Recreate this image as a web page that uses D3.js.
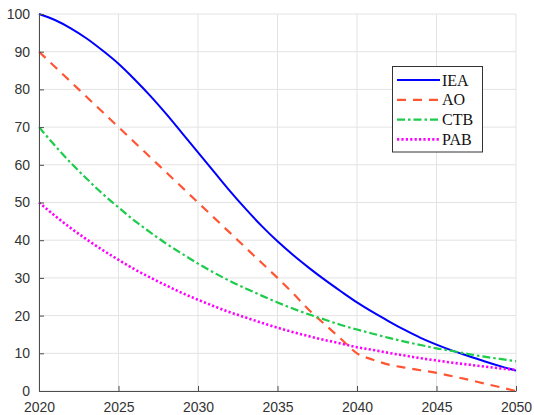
<!DOCTYPE html>
<html>
<head>
<meta charset="utf-8">
<script src="https://cdn.jsdelivr.net/npm/d3@7"></script>
<style>
  html, body { margin: 0; padding: 0; background: #fff; }
  svg { display: block; }
</style>
</head>
<body>
<svg id="chart" width="534" height="415"></svg>
<script>
const years = d3.range(2020, 2051);
const xTicks = [2020, 2025, 2030, 2035, 2040, 2045, 2050];
const yTicks = [0, 10, 20, 30, 40, 50, 60, 70, 80, 90, 100];
const seriesNames = ["IEA", "AO", "CTB", "PAB"];

const IEA = [100, 98.4, 96.2, 93.5, 90.3, 86.8, 82.7, 78.3, 73.5, 68.4, 63.3,
             58.2, 53.1, 48.3, 43.8, 39.7, 36.0, 32.6, 29.4, 26.4, 23.5,
             20.9, 18.5, 16.2, 14.1, 12.3, 10.7, 9.3, 7.9, 6.6, 5.4];
const AO  = [90, 86, 82, 78, 74, 70, 66, 62, 58, 54, 50,
             46, 42, 38, 34, 30, 25.8, 21.4, 17.6, 13.8, 10,
             8.3, 7.0, 6.2, 5.5, 4.8, 3.9, 3.0, 2.0, 1.0, 0];
const CTB = [70, 65.1, 60.5, 56.3, 52.3, 48.7, 45.2, 42.1, 39.1, 36.4, 33.8,
             31.4, 29.2, 27.2, 25.3, 23.5, 21.8, 20.3, 18.9, 17.5, 16.3,
             15.2, 14.1, 13.1, 12.2, 11.3, 10.6, 9.8, 9.1, 8.5, 7.9];
const PAB = [50, 46.5, 43.2, 40.2, 37.4, 34.8, 32.3, 30.1, 28.0, 26.0, 24.2,
             22.5, 20.9, 19.5, 18.1, 16.8, 15.6, 14.5, 13.5, 12.6, 11.6,
             10.9, 10.1, 9.4, 8.7, 8.1, 7.5, 7.0, 6.5, 6.0, 5.6];

const seriesValues = [IEA, AO, CTB, PAB];
const seriesStyles = [
  { color: "#0000ff", width: 2,   dash: null },
  { color: "#ff5533", width: 2.2, dash: "9,7" },
  { color: "#1ccc4a", width: 2.2, dash: "8,3,2.5,3" },
  { color: "#ff00ff", width: 2.6, dash: "2.2,2.2" }
];

const W = 534, H = 415;
const m = { left: 39, right: 18, top: 14, bottom: 24 };
const svg = d3.select("#chart");

const x = d3.scaleLinear().domain([2020, 2050]).range([m.left, W - m.right]);
const y = d3.scaleLinear().domain([0, 100]).range([H - m.bottom, m.top]);

// grid
const grid = svg.append("g");
grid.selectAll(".vg").data(xTicks).enter().append("line")
  .attr("x1", d => x(d)).attr("x2", d => x(d))
  .attr("y1", y(0)).attr("y2", y(100))
  .attr("stroke", "#e3e3e3").attr("stroke-width", 1);
grid.selectAll(".hg").data(yTicks).enter().append("line")
  .attr("x1", x(2020)).attr("x2", x(2050))
  .attr("y1", d => y(d)).attr("y2", d => y(d))
  .attr("stroke", "#e3e3e3").attr("stroke-width", 1);

// lines
const line = d3.line().x((d, i) => x(years[i])).y(d => y(d)).curve(d3.curveMonotoneX);
seriesValues.forEach((vals, k) => {
  const s = seriesStyles[k];
  svg.append("path")
    .datum(vals)
    .attr("d", line)
    .attr("fill", "none")
    .attr("stroke", s.color)
    .attr("stroke-width", s.width)
    .attr("stroke-dasharray", s.dash)
    .attr("stroke-linejoin", "round");
});

// axes
const xAxis = d3.axisBottom(x).tickValues(xTicks).tickFormat(d3.format("d"))
  .tickSizeInner(-5).tickSizeOuter(0).tickPadding(11);
const yAxis = d3.axisLeft(y).tickValues(yTicks)
  .tickSizeInner(-5).tickSizeOuter(0).tickPadding(9);

const gx = svg.append("g").attr("transform", `translate(0,${y(0)})`).call(xAxis);
const gy = svg.append("g").attr("transform", `translate(${x(2020)},0)`).call(yAxis);
[gx, gy].forEach(g => {
  g.select(".domain").attr("stroke", "#4d4d4d").attr("stroke-width", 1);
  g.selectAll(".tick line").attr("stroke", "#4d4d4d").attr("stroke-width", 1);
  g.selectAll(".tick text")
    .attr("fill", "#333")
    .style("font-family", "'Liberation Sans', Arial, sans-serif")
    .style("font-size", "14px");
});

// legend
const lg = svg.append("g");
lg.append("rect")
  .attr("x", 392.5).attr("y", 66.5).attr("width", 90).attr("height", 85.5)
  .attr("fill", "#fff").attr("stroke", "#333").attr("stroke-width", 1);
seriesNames.forEach((name, k) => {
  const s = seriesStyles[k];
  const yy = 80 + k * 19.8;
  lg.append("line")
    .attr("x1", 397).attr("x2", 440).attr("y1", yy).attr("y2", yy)
    .attr("stroke", s.color).attr("stroke-width", s.width)
    .attr("stroke-dasharray", s.dash);
  lg.append("text")
    .attr("x", 442).attr("y", yy).attr("dy", "0.35em")
    .attr("fill", "#111")
    .style("font-family", "'Liberation Serif', 'Times New Roman', serif")
    .style("font-size", "16px")
    .text(name);
});
</script>
</body>
</html>
